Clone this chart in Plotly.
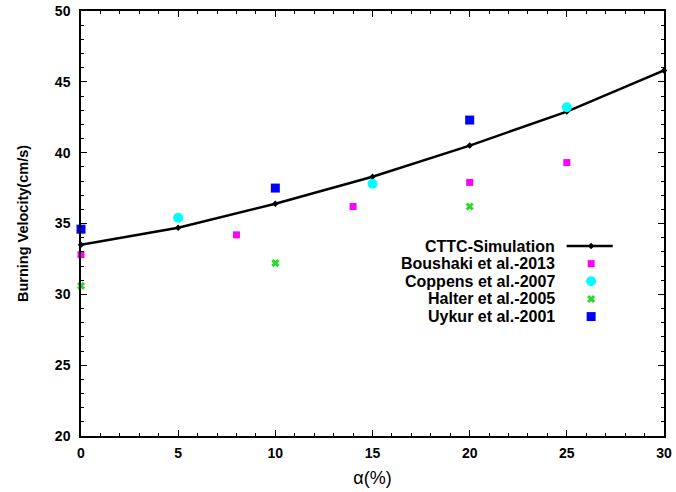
import plotly.graph_objects as go

# CTTC simulation
sim_alpha = [0, 5, 10, 15, 20, 25, 30]
sim_su = [33.5, 34.7, 36.4, 38.3, 40.5, 42.9, 45.8]

# Experimental data
boushaki_alpha = [0, 8, 14, 20, 25]
boushaki_su = [32.8, 34.2, 36.2, 37.9, 39.3]

coppens_alpha = [5, 15, 25]
coppens_su = [35.4, 37.8, 43.2]

halter_alpha = [0, 10, 20]
halter_su = [30.6, 32.2, 36.2]

uykur_alpha = [0, 10, 20]
uykur_su = [34.6, 37.5, 42.3]

x_ticks = [0, 5, 10, 15, 20, 25, 30]
y_ticks = [20, 25, 30, 35, 40, 45, 50]

names = ["CTTC-Simulation", "Boushaki et al.-2013", "Coppens et al.-2007",
         "Halter et al.-2005", "Uykur et al.-2001"]

GREEN = "#22DD22"
styles = [
    dict(mode="lines+markers", line=dict(color="black", width=2.5),
         marker=dict(symbol="diamond", size=5, color="black")),
    dict(mode="markers", marker=dict(symbol="square", size=7, color="#FF00FF")),
    dict(mode="markers", marker=dict(symbol="circle", size=10, color="#00FFFF")),
    dict(mode="markers", marker=dict(symbol="x-thin", size=6, color=GREEN,
                                     line=dict(width=3, color=GREEN))),
    dict(mode="markers", marker=dict(symbol="square", size=9, color="#0000FF")),
]

series = [(sim_alpha, sim_su), (boushaki_alpha, boushaki_su), (coppens_alpha, coppens_su),
          (halter_alpha, halter_su), (uykur_alpha, uykur_su)]

fig = go.Figure()
for (xs, ys), name, st in zip(series, names, styles):
    fig.add_trace(go.Scatter(x=xs, y=ys, name=name, showlegend=False,
                             cliponaxis=False, **st))

# Key block: label on the left, sample on the right
key_y0, key_dy = 0.447, 0.0415
key_text_x = 0.815
key_sample_x = 0.875
for i, (name, st) in enumerate(zip(names, styles)):
    ky = key_y0 - i * key_dy
    if i == 0:
        fig.add_trace(go.Scatter(x=[key_sample_x - 0.042, key_sample_x + 0.037], y=[ky, ky],
                                 mode="lines", line=st["line"], xaxis="x2", yaxis="y2",
                                 showlegend=False, hoverinfo="skip"))
        fig.add_trace(go.Scatter(x=[key_sample_x], y=[ky], mode="markers",
                                 marker=st["marker"], xaxis="x2", yaxis="y2",
                                 showlegend=False, hoverinfo="skip"))
    else:
        fig.add_trace(go.Scatter(x=[key_sample_x], y=[ky], xaxis="x2", yaxis="y2",
                                 showlegend=False, hoverinfo="skip", **st))
    fig.add_annotation(x=key_text_x, y=ky, xref="paper", yref="paper",
                       text=f"<b>{name}</b>", showarrow=False, xanchor="right",
                       yanchor="middle", borderpad=0,
                       font=dict(family="Liberation Sans, Arial", size=16, color="black"))

axis_common = dict(showgrid=False, zeroline=False, showline=True, linecolor="black",
                   linewidth=1.5, mirror="ticks", ticks="inside", ticklen=6,
                   tickcolor="black", tickwidth=1, automargin=False,
                   tickfont=dict(family="Liberation Sans, Arial", size=14, color="black"),
                   minor=dict(ticks="inside", ticklen=3, dtick=1, tickcolor="black",
                              tickwidth=1))

fig.update_layout(
    width=676, height=492,
    margin=dict(l=81, r=12, t=11, b=56),
    paper_bgcolor="white", plot_bgcolor="white",
    font=dict(family="Liberation Sans, Arial", color="black"),
    xaxis=dict(range=[0, 30], tickvals=x_ticks, ticktext=[f"<b>{v}</b>" for v in x_ticks],
               ticklabelstandoff=3,
               title=dict(text="α(%)", font=dict(size=18), standoff=12),
               **axis_common),
    yaxis=dict(range=[20, 50], tickvals=y_ticks, ticktext=[f"<b>{v}</b>" for v in y_ticks],
               ticklabelstandoff=6,
               title=dict(text="<b>Burning Velocity(cm/s)</b>", font=dict(size=14.5), standoff=23),
               **axis_common),
    xaxis2=dict(range=[0, 1], overlaying="x", visible=False, domain=[0, 1]),
    yaxis2=dict(range=[0, 1], overlaying="y", visible=False),
)

fig.write_html("out.html")
